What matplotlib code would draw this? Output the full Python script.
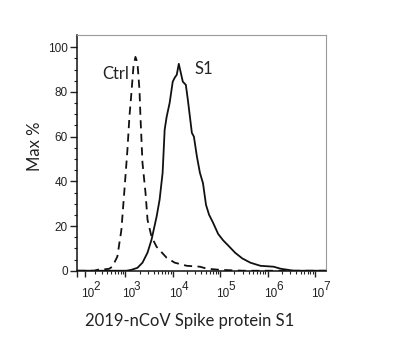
import numpy as np
import matplotlib
matplotlib.use("Agg")
import matplotlib.pyplot as plt
import matplotlib.transforms as mtransforms
from matplotlib.ticker import FixedLocator, NullFormatter

# Control histogram (dashed): fluorescence intensity vs. % of max
ctrl_x = [40, 102, 195, 261, 344, 447, 521, 671, 820, 953, 1103, 1216, 1342,
          1480, 1633, 1800, 1986, 2085, 2190, 2300, 2665, 2940, 3573, 4570,
          7450, 11030, 19870, 37500, 52800, 100000, 308000, 709000, 1.89e6,
          5.0e6, 1.7e7]
ctrl_y = [0, 0, 0, 0.6, 0.6, 0.9, 1.8, 6.3, 18.3, 36.2, 54.1, 68.9, 79.6,
          91.3, 95.7, 93.1, 81.0, 68.9, 58.6, 48.3, 34.9, 22.8, 15.2, 10.7,
          5.8, 3.6, 2.2, 1.8, 0.9, 0.4, 0, 0, 0, 0, 0]

# Spike protein S1 histogram (solid)
s1_x = [40, 500, 1050, 1342, 1800, 2300, 2940, 3573, 4570, 5290, 6120, 6760,
        7450, 8630, 10000, 11030, 12170, 13430, 14800, 16330, 18910, 20860,
        25350, 27980, 32420, 37500, 43480, 50350, 58330, 70960, 90630,
        115800, 147900, 208500, 293800, 434800, 709600, 1.343e6, 1.89e6,
        3.57e6, 1.7e7]
s1_y = [0, 0, 0, 0.4, 1.3, 3.6, 8.1, 13.9, 24.2, 31.8, 43.8, 63.1, 68.9,
        75.2, 84.6, 86.4, 87.7, 92.6, 88.6, 84.6, 83.2, 76.5, 61.7, 60.0,
        51.0, 43.8, 39.2, 29.5, 25.1, 21.5, 16.5, 13.6, 11.3, 8.0, 5.5, 3.6,
        2.2, 1.8, 0.9, 0, 0]

x_major = [1e2, 1e3, 1e4, 1e5, 1e6, 1e7]
x_exponents = ["2", "3", "4", "5", "6", "7"]
y_major = [0, 20, 40, 60, 80, 100]

W = 150.0  # linear width of the biexponential-like axis


def fwd(x):
    return np.arcsinh(np.asarray(x, dtype=float) / W)


def inv(u):
    return W * np.sinh(np.asarray(u, dtype=float))


fig = plt.figure(figsize=(4.03, 3.43), dpi=100)
ax = fig.add_axes([77 / 403, 1 - 271.4 / 343, 249 / 403, (271.4 - 35) / 343])
ax.set_xscale("function", functions=(fwd, inv))
ax.set_xlim(37, 1.71e7)
ax.set_ylim(-0.3, 105.5)

ax.plot(ctrl_x, ctrl_y, color="#111111", lw=1.3, linestyle=(0, (4.5, 3)))
ax.plot(s1_x, s1_y, color="#111111", lw=1.3)

# x ticks (labels drawn as "10" plus a raised exponent)
ax.xaxis.set_major_locator(FixedLocator([37] + x_major))
ax.xaxis.set_major_formatter(NullFormatter())
minors = [m * 10 ** k for k in range(2, 7) for m in range(2, 10)]
ax.xaxis.set_minor_locator(FixedLocator(minors))
ax.xaxis.set_minor_formatter(NullFormatter())
ax.tick_params(axis="x", which="major", length=4.5, width=1.0,
               colors="#222222")
ax.tick_params(axis="x", which="minor", length=2.2, width=0.8, colors="#222222")

xt = ax.get_xaxis_transform()
for xv, ex in zip(x_major, x_exponents):
    base_tr = mtransforms.offset_copy(xt, fig=fig, x=3, y=-17, units="dots")
    sup_tr = mtransforms.offset_copy(xt, fig=fig, x=8.5, y=-9.5, units="dots")
    ax.text(xv, 0, "10", transform=base_tr, ha="center", va="top",
            fontsize=8.5, family="Liberation Sans", color="#222222",
            clip_on=False)
    ax.text(xv, 0, ex, transform=sup_tr, ha="left", va="top",
            fontsize=8.5, family="Liberation Sans", color="#222222",
            clip_on=False)

# y ticks
ax.set_yticks(y_major)
ax.yaxis.set_minor_locator(FixedLocator(np.arange(0, 101, 5)))
ax.tick_params(axis="y", which="major", length=5, width=1.0, pad=1.5,
               labelsize=8.5, colors="#222222")
ax.tick_params(axis="y", which="minor", length=2.2, width=0.8, colors="#222222")
for lab in ax.get_yticklabels():
    lab.set_fontfamily("Liberation Sans")

for side in ("left", "bottom"):
    ax.spines[side].set_color("#111111")
    ax.spines[side].set_linewidth(1.1)
for side in ("top", "right"):
    ax.spines[side].set_color("#9a9a9a")
    ax.spines[side].set_linewidth(0.8)

ax.text(1180, 88, "Ctrl", ha="right", va="center", fontsize=12,
        family="Lato", color="#222222")
ax.text(29000, 90.5, "S1", ha="left", va="center", fontsize=12,
        family="Lato", color="#222222")

fig.text(35 / 403, 1 - 146 / 343, "Max %", rotation=90, ha="center",
         va="center", fontsize=12, family="Lato", color="#222222")
fig.text(190 / 403, 1 - 321 / 343, "2019-nCoV Spike protein S1", ha="center",
         va="center", fontsize=12, family="Lato", color="#222222")

fig.savefig("out.png", dpi=100)
